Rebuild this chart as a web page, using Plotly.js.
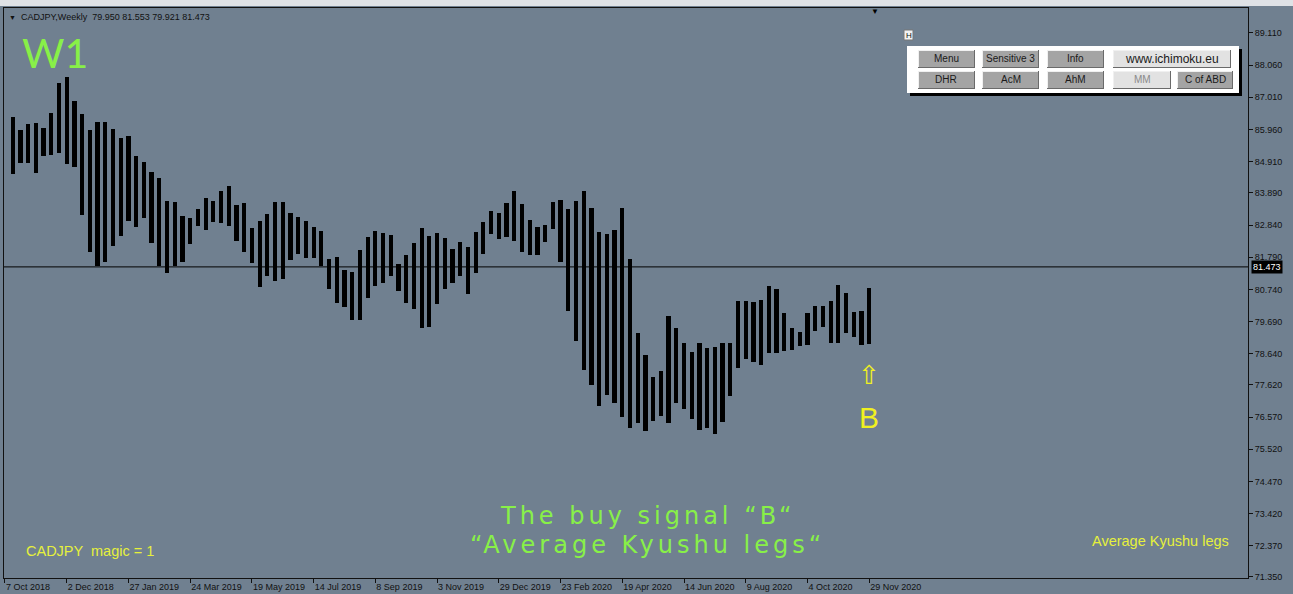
<!DOCTYPE html>
<html>
<head>
<meta charset="utf-8">
<script src="https://cdn.plot.ly/plotly-3.0.1.min.js"></script>
<style>html,body{margin:0;padding:0;background:#708090;}#chart{width:1293px;height:594px;}</style>
</head>
<body>
<div id="chart"></div>
<script>
// ---- data ----
const weeks = [
"2018-10-14","2018-10-21","2018-10-28","2018-11-04","2018-11-11","2018-11-18","2018-11-25","2018-12-02","2018-12-09","2018-12-16","2018-12-23","2018-12-30",
"2019-01-06","2019-01-13","2019-01-20","2019-01-27","2019-02-03","2019-02-10","2019-02-17","2019-02-24","2019-03-03","2019-03-10","2019-03-17","2019-03-24","2019-03-31","2019-04-07","2019-04-14","2019-04-21","2019-04-28","2019-05-05","2019-05-12","2019-05-19","2019-05-26","2019-06-02","2019-06-09","2019-06-16","2019-06-23","2019-06-30","2019-07-07","2019-07-14","2019-07-21","2019-07-28","2019-08-04","2019-08-11","2019-08-18","2019-08-25","2019-09-01","2019-09-08","2019-09-15","2019-09-22","2019-09-29","2019-10-06","2019-10-13","2019-10-20","2019-10-27","2019-11-03","2019-11-10","2019-11-17","2019-11-24","2019-12-01","2019-12-08","2019-12-15","2019-12-22","2019-12-29",
"2020-01-05","2020-01-12","2020-01-19","2020-01-26","2020-02-02","2020-02-09","2020-02-16","2020-02-23","2020-03-01","2020-03-08","2020-03-15","2020-03-22","2020-03-29","2020-04-05","2020-04-12","2020-04-19","2020-04-26","2020-05-03","2020-05-10","2020-05-17","2020-05-24","2020-05-31","2020-06-07","2020-06-14","2020-06-21","2020-06-28","2020-07-05","2020-07-12","2020-07-19","2020-07-26","2020-08-02","2020-08-09","2020-08-16","2020-08-23","2020-08-30","2020-09-06","2020-09-13","2020-09-20","2020-09-27","2020-10-04","2020-10-11","2020-10-18","2020-10-25","2020-11-01","2020-11-08","2020-11-15","2020-11-22","2020-11-29"
];
const highs = [
86.377,85.943,86.139,86.162,85.998,86.488,87.487,87.683,86.890,86.456,85.943,86.194,86.194,85.976,85.672,85.747,85.094,84.908,84.581,84.366,
83.635,83.602,83.145,83.060,83.354,83.713,83.635,83.951,84.115,83.494,83.550,82.753,82.972,83.200,83.602,83.602,83.223,83.112,82.982,82.766,
82.655,81.721,81.806,81.372,81.297,82.025,82.459,82.645,82.570,82.515,81.568,81.862,82.244,82.733,82.492,82.570,82.407,82.058,82.276,82.113,
82.603,82.929,83.308,83.223,83.569,83.951,83.527,83.004,82.766,82.841,83.602,83.657,83.354,83.635,83.942,83.386,82.623,82.538,82.688,83.386,
81.731,79.315,78.597,77.888,78.084,79.870,79.469,78.998,78.685,78.998,78.816,78.848,78.998,78.979,80.360,80.360,80.317,80.392,80.859,80.742,
79.978,79.469,79.338,79.958,80.197,80.197,80.360,80.882,80.631,80.010,80.043,80.794
];
const lows = [
84.506,84.875,84.865,84.529,85.094,85.127,85.202,84.823,84.725,83.168,81.969,81.503,81.643,82.156,82.482,82.982,82.786,83.060,82.263,81.503,
81.264,81.503,81.643,82.211,82.809,82.678,82.949,82.897,82.818,82.319,81.969,81.610,80.827,81.176,81.023,81.068,81.698,81.894,81.754,81.754,
81.503,80.742,80.304,80.174,79.739,79.739,80.448,80.850,80.938,81.176,80.696,80.285,80.089,79.469,79.501,80.252,80.752,80.938,81.176,80.588,
81.284,81.894,82.538,82.384,82.459,82.329,81.969,81.862,81.862,82.296,82.711,81.643,80.043,79.064,78.107,77.617,76.932,77.291,77.020,76.582,
76.203,76.386,76.125,76.452,76.605,76.367,77.020,76.824,76.497,76.148,76.203,76.017,76.419,77.258,78.182,78.456,78.378,78.270,78.672,78.652,
78.737,78.760,78.900,78.923,79.390,79.521,78.998,78.998,79.305,79.194,78.923,78.946
];
const xTickDates = ["2018-10-07","2018-12-02","2019-01-27","2019-03-24","2019-05-19","2019-07-14","2019-09-08","2019-11-03","2019-12-29","2020-02-23","2020-04-19","2020-06-14","2020-08-09","2020-10-04","2020-11-29"];
const xTickLabels = ["7 Oct 2018","2 Dec 2018","27 Jan 2019","24 Mar 2019","19 May 2019","14 Jul 2019","8 Sep 2019","3 Nov 2019","29 Dec 2019","23 Feb 2020","19 Apr 2020","14 Jun 2020","9 Aug 2020","4 Oct 2020","29 Nov 2020"];
const yTicks = [89.110,88.060,87.010,85.960,84.910,83.890,82.840,81.790,80.740,79.690,78.640,77.620,76.570,75.520,74.470,73.420,72.370,71.350];
const currentPrice = 81.473;
const header = "CADJPY,Weekly\u00a0\u00a079.950 81.553 79.921 81.473";
const signalDate = "2020-11-29";
const signalLow = 78.946;
const rowButtons1 = ["Menu","Sensitive 3","Info","www.ichimoku.eu"];
const rowButtons2 = ["DHR","AcM","AhM","MM","C of ABD"];

// ---- layout helpers (pixel -> paper) ----
const L = 4, R = 1248, T = 8, B = 578;
const px = x => (x - L) / (R - L);
const py = y => (B - y) / (B - T);

const DAY = 86400000;
const x0 = new Date("2018-10-07T00:00:00Z").getTime() - 0.9 * DAY;
const x1 = x0 + (R - L) / 7.716 * 7 * DAY;

const trace = {
  type: "bar",
  x: weeks,
  base: lows,
  y: highs.map((h, i) => h - lows[i]),
  width: 3.3e8,
  marker: {color: "#000000", line: {width: 0}},
  hoverinfo: "skip"
};

const shapes = [];
const annotations = [];

// top window strip
shapes.push({type:"rect", xref:"paper", yref:"paper", x0:px(0), x1:px(1293), y0:py(6), y1:py(0), fillcolor:"#dfe2e6", line:{width:0}, layer:"above"});
// current price line
shapes.push({type:"line", xref:"paper", yref:"y", x0:0, x1:1, y0:currentPrice, y1:currentPrice, line:{color:"#000", width:1}});

// panel
shapes.push({type:"rect", xref:"paper", yref:"paper", x0:px(910), x1:px(1242), y0:py(96), y1:py(49), fillcolor:"#000", line:{width:0}, layer:"above"});
shapes.push({type:"rect", xref:"paper", yref:"paper", x0:px(907), x1:px(1239), y0:py(93), y1:py(46), fillcolor:"#ffffff", line:{width:0}, layer:"above"});
// H box
shapes.push({type:"rect", xref:"paper", yref:"paper", x0:px(904), x1:px(913), y0:py(40), y1:py(30), fillcolor:"#f2f2f2", line:{color:"#777", width:1}, layer:"above"});
annotations.push({xref:"paper", yref:"paper", x:px(908.5), y:py(35), text:"H", showarrow:false, font:{size:8, color:"#111", family:"Liberation Sans"}, xanchor:"center", yanchor:"middle"});

function button(xa, xb, ya, yb, label, light, size, tcolor) {
  const face = light ? "#e2e2e2" : "#a4a4a4";
  shapes.push({type:"rect", xref:"paper", yref:"paper", x0:px(xa), x1:px(xb), y0:py(yb), y1:py(ya), fillcolor:"#6a6a6a", line:{width:0}, layer:"above"});
  shapes.push({type:"rect", xref:"paper", yref:"paper", x0:px(xa), x1:px(xb-1), y0:py(yb-1), y1:py(ya), fillcolor:"#f0f0f0", line:{width:0}, layer:"above"});
  shapes.push({type:"rect", xref:"paper", yref:"paper", x0:px(xa+1), x1:px(xb-1), y0:py(yb-1), y1:py(ya+1), fillcolor:face, line:{width:0}, layer:"above"});
  annotations.push({xref:"paper", yref:"paper", x:px((xa+xb)/2), y:py((ya+yb)/2), text:label, showarrow:false,
    font:{size:size, color:tcolor, family:"Liberation Sans"}, xanchor:"center", yanchor:"middle"});
}
const r1x = [[918,975],[982,1039],[1047,1104],[1113,1231]];
const r2x = [[918,975],[982,1039],[1047,1104],[1113,1171],[1177,1233]];
rowButtons1.forEach((b,i) => button(r1x[i][0], r1x[i][1], 50, 68, b, i===3, i===3 ? 12 : 10, "#1a1a1a"));
rowButtons2.forEach((b,i) => button(r2x[i][0], r2x[i][1], 71, 89, b, i===3, 10, i===3 ? "#8a8a8a" : "#1a1a1a"));

// header text
annotations.push({xref:"paper", yref:"paper", x:px(7), y:py(17), text:"▼", showarrow:false, font:{size:7, color:"#111"}, xanchor:"left", yanchor:"middle"});
annotations.push({xref:"paper", yref:"paper", x:px(19), y:py(17), text:header, showarrow:false, font:{size:9, color:"#111", family:"Liberation Sans"}, xanchor:"left", yanchor:"middle"});
// shift marker
annotations.push({xref:"paper", yref:"paper", x:px(875), y:py(11), text:"▼", showarrow:false, font:{size:8, color:"#000"}, xanchor:"center", yanchor:"middle"});
// W1
annotations.push({xref:"paper", yref:"paper", x:px(20), y:py(52), text:"W1", showarrow:false, font:{size:41, color:"#88f048", family:"Lato", weight:400}, xanchor:"left", yanchor:"middle"});
// centre texts
annotations.push({xref:"paper", yref:"paper", x:px(647), y:py(516), text:'<span style="letter-spacing:4px">The buy signal “B“</span>', showarrow:false, font:{size:24, color:"#88f048", family:"DejaVu Sans"}, xanchor:"center", yanchor:"middle"});
annotations.push({xref:"paper", yref:"paper", x:px(647), y:py(545), text:'<span style="letter-spacing:4px">“Average Kyushu legs“</span>', showarrow:false, font:{size:24, color:"#88f048", family:"DejaVu Sans"}, xanchor:"center", yanchor:"middle"});
// yellow texts
annotations.push({xref:"paper", yref:"paper", x:px(24), y:py(551), text:"CADJPY  magic = 1", showarrow:false, font:{size:14.5, color:"#e6f03c", family:"Liberation Sans"}, xanchor:"left", yanchor:"middle"});
annotations.push({xref:"paper", yref:"paper", x:px(1231), y:py(541), text:"Average Kyushu legs", showarrow:false, font:{size:14.5, color:"#e6f03c", family:"Liberation Sans"}, xanchor:"right", yanchor:"middle"});
// signal arrow and B
annotations.push({x:signalDate, y:signalLow, xref:"x", yref:"y", text:"⇧", showarrow:false, font:{size:26, color:"#f0f020", family:"DejaVu Sans"}, xanchor:"center", yanchor:"top", yshift:-14});
annotations.push({x:signalDate, y:signalLow, xref:"x", yref:"y", text:"B", showarrow:false, font:{size:30, color:"#f0f020", family:"Liberation Sans"}, xanchor:"center", yanchor:"top", yshift:-55});
// price label
annotations.push({xref:"paper", yref:"y", x:1, y:currentPrice, text:currentPrice.toFixed(3), showarrow:false, font:{size:9, color:"#ffffff", family:"Liberation Sans"}, bgcolor:"#000000", xanchor:"left", yanchor:"middle", xshift:3, borderpad:1});

const layout = {
  width: 1293, height: 594,
  margin: {l:L, r:1293-R, t:T, b:594-B, pad:0},
  paper_bgcolor: "#708090",
  plot_bgcolor: "#708090",
  font: {family:"Liberation Sans", size:9, color:"#111"},
  showlegend: false,
  bargap: 0,
  xaxis: {
    type: "date",
    range: [x0, x1],
    tickvals: xTickDates, ticktext: xTickLabels,
    ticks: "outside", ticklen: 4, tickcolor: "#111",
    ticklabelposition: "outside right",
    showgrid: false, zeroline: false,
    showline: true, mirror: true, linecolor: "#111", linewidth: 1,
    tickfont: {size:9, color:"#111"}
  },
  yaxis: {
    side: "right",
    range: [71.316, 89.926],
    tickvals: yTicks, ticktext: yTicks.map(v => v.toFixed(3)),
    ticks: "outside", ticklen: 4, tickcolor: "#111",
    showgrid: false, zeroline: false,
    showline: true, mirror: true, linecolor: "#111", linewidth: 1,
    tickfont: {size:9, color:"#111"}
  },
  shapes: shapes,
  annotations: annotations
};

Plotly.newPlot("chart", [trace], layout, {displayModeBar:false, staticPlot:true});
</script>
</body>
</html>
